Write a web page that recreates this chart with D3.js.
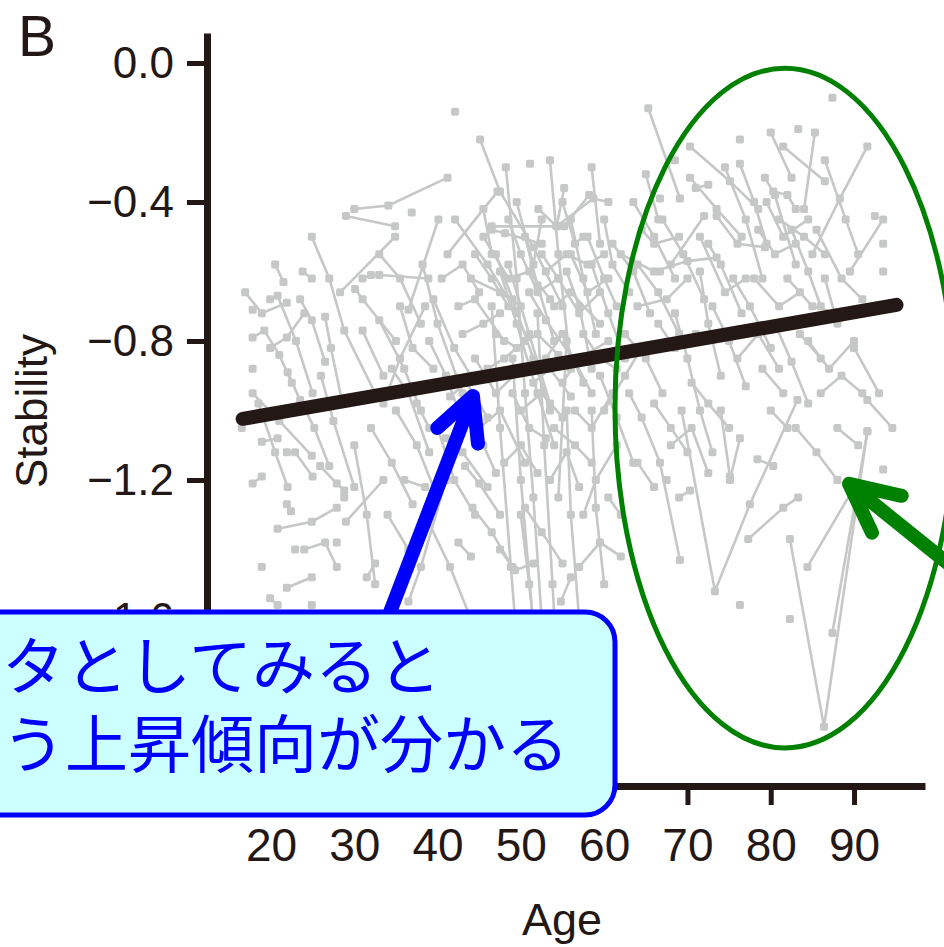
<!DOCTYPE html>
<html><head><meta charset="utf-8">
<script src="https://cdn.jsdelivr.net/npm/d3@7"></script>
<style>body{margin:0;background:#fff;} svg{display:block}</style>
</head><body><svg id="c" width="944" height="947"></svg>
<script>
// ---- data: each subject = list of [age, stability] ----
const subjectsYoung = [
  [[16.9,-0.66],[18.9,-0.72],[21.9,-0.69]],
  [[17.8,-0.71]],
  [[19.9,-0.68],[20.8,-0.67],[23.0,-0.80],[25.0,-0.95]],
  [[17.8,-0.79],[19.2,-0.77],[21.0,-0.84],[22.5,-0.92]],
  [[17.8,-0.88]],
  [[17.8,-0.95],[21.0,-1.03],[24.9,-1.13]],
  [[18.9,-1.09],[20.8,-1.08]],
  [[17.8,-1.21],[18.9,-1.19]],
  [[21.9,-1.27],[22.4,-1.29]],
  [[20.8,-1.34],[24.9,-1.32],[27.9,-1.28]],
  [[18.9,-1.45]],
  [[21.9,-1.51],[24.9,-1.48]],
  [[19.9,-1.54],[20.8,-1.56]],
  [[27.9,-1.38]],
  [[22.9,-1.40]],
  [[24.9,-1.56]],
  [[16.5,-1.05]],
  [[20.5,-0.58],[21.5,-0.63]],
  [[23.8,-0.60],[24.9,-0.62]],
  [[24.9,-0.50],[27.0,-0.62],[28.8,-0.77],[32.5,-0.95]],
  [[23.5,-0.68],[24.9,-0.74],[26.5,-0.86]],
  [[26.5,-0.73],[27.2,-0.82],[28.5,-0.97]],
  [[22.0,-0.89],[23.5,-0.97],[25.2,-1.05],[27.0,-1.16]],
  [[25.9,-1.16],[27.9,-1.21],[28.8,-1.23]],
  [[21.9,-1.12],[22.9,-1.12],[25.0,-1.19]],
  [[28.8,-1.25]],
  [[19.9,-0.82],[21.9,-0.79],[24.0,-0.72]],
  [[18.5,-0.98],[20.5,-1.12],[22.0,-1.22]],
  [[26.0,-0.90],[27.5,-1.03],[30.0,-1.22]],
  [[24.0,-1.40],[26.5,-1.38],[27.9,-1.45]]
];
const subjectsAdult = [
  [[30.0,-0.42],[34.1,-0.41],[41.2,-0.33]],
  [[29.0,-0.44],[34.9,-0.47]],
  [[28.3,-0.66],[34.9,-0.50]],
  [[36.9,-0.43]],
  [[31.0,-0.62],[32.0,-0.61],[33.0,-0.61],[38.9,-0.62]],
  [[30.1,-0.65],[31.0,-0.68],[35.0,-0.80]],
  [[31.0,-0.77],[33.5,-0.90]],
  [[33.0,-0.74],[36.0,-0.88],[38.0,-1.00]],
  [[38.2,-0.58],[40.0,-0.75],[43.0,-0.95]],
  [[36.5,-0.71],[40.1,-0.45]],
  [[32.0,-1.05],[34.5,-1.15],[37.0,-1.27]],
  [[30.0,-1.10],[31.5,-1.30],[32.5,-1.50]],
  [[29.0,-1.32],[33.5,-1.20]],
  [[33.5,-0.98],[35.5,-0.85],[38.5,-0.70]],
  [[35.0,-1.00],[37.5,-1.10],[40.0,-1.25]],
  [[34.0,-1.30],[36.5,-1.40]],
  [[31.5,-1.48],[32.5,-1.44]],
  [[36.5,-1.55],[38.0,-1.45],[41.0,-1.20]],
  [[37.5,-0.98],[39.0,-1.05]],
  [[38.5,-1.30],[41.5,-1.45],[44.0,-1.60]],
  [[39.0,-0.80],[41.0,-0.90],[42.5,-1.00]],
  [[33.0,-0.55],[35.5,-0.62],[38.0,-0.75]],
  [[35.5,-0.70],[37.0,-0.82],[39.5,-0.88]],
  [[34.5,-0.88],[36.5,-0.95],[39.0,-1.12]],
  [[40.0,-1.05],[42.0,-1.20],[44.5,-1.30]],
  [[36.0,-1.20],[38.5,-1.22]]
];
const subjectsMiddle = [
  [[42.1,-0.14]],
  [[45.1,-0.22],[47.5,-0.37],[51.5,-0.53],[55.0,-0.70]],
  [[51.1,-0.29]],
  [[54.3,-0.47],[55.2,-0.36]],
  [[55.2,-0.47],[58.2,-0.38]],
  [[52.1,-0.42],[54.3,-0.47],[58.7,-0.39],[60.5,-0.40]],
  [[46.5,-0.47],[54.3,-0.47]],
  [[46.5,-0.48],[48.1,-0.49],[52.5,-0.52]],
  [[41.2,-0.55],[47.2,-0.37]],
  [[42.1,-0.45],[46.0,-0.58],[49.5,-0.72]],
  [[47.0,-0.55],[49.0,-0.68],[51.5,-0.85],[53.5,-1.00]],
  [[47.5,-0.60],[49.5,-0.75],[52.0,-0.95],[54.0,-1.10]],
  [[48.5,-0.58],[51.0,-0.78],[53.5,-0.98]],
  [[44.0,-0.62],[47.5,-0.66],[50.0,-0.70]],
  [[42.5,-0.70],[44.5,-0.68],[48.0,-0.80]],
  [[43.0,-0.78],[45.5,-0.75],[47.5,-0.72]],
  [[44.5,-0.85],[47.0,-0.95],[50.0,-0.88]],
  [[41.5,-0.96],[43.5,-0.92],[46.0,-1.02]],
  [[45.0,-1.05],[47.5,-1.00],[50.5,-1.15]],
  [[43.3,-1.16],[45.0,-1.21],[47.5,-1.30]],
  [[44.2,-1.28],[46.5,-1.35],[49.0,-1.45]],
  [[42.5,-1.38],[44.0,-1.42]],
  [[47.5,-1.40],[49.3,-1.46],[51.5,-1.44]],
  [[48.2,-0.30],[49.5,-0.62],[50.5,-0.95],[51.5,-1.25],[52.5,-1.60]],
  [[46.5,-0.70],[47.5,-1.05],[48.8,-1.45],[49.8,-1.75]],
  [[49.0,-0.85],[50.0,-1.20],[51.5,-1.62]],
  [[52.0,-0.72],[52.8,-1.10],[53.8,-1.50],[54.5,-1.80]],
  [[54.5,-1.25],[55.5,-0.80]],
  [[50.5,-1.28],[52.5,-1.35],[55.0,-1.44]],
  [[53.5,-1.20],[55.5,-1.12],[57.0,-1.22]],
  [[56.0,-0.45],[57.5,-0.62],[59.0,-0.78]],
  [[53.0,-0.60],[55.5,-0.55],[58.0,-0.58],[60.0,-0.55]],
  [[54.0,-0.70],[56.0,-0.66],[59.5,-0.75]],
  [[51.0,-0.66],[53.0,-0.74],[56.5,-0.86],[58.5,-0.95]],
  [[55.0,-0.92],[57.0,-0.85],[60.5,-0.80]],
  [[56.5,-1.00],[58.5,-1.05],[61.0,-0.95]],
  [[50.0,-1.00],[52.5,-0.95],[55.0,-1.02]],
  [[57.5,-1.30],[59.0,-1.20],[61.5,-1.10]],
  [[58.0,-0.50],[60.0,-0.62],[61.5,-0.70]],
  [[60.0,-0.45],[61.0,-0.58],[63.0,-0.66]],
  [[57.0,-1.45],[59.5,-1.38],[62.0,-1.42]],
  [[59.5,-0.90],[61.5,-1.02],[63.5,-1.15]],
  [[48.0,-1.15],[50.0,-1.10],[52.0,-1.18]],
  [[41.0,-1.08],[43.0,-1.12],[46.0,-1.22]],
  [[53.5,-0.28],[54.5,-0.55],[56.0,-0.88]],
  [[58.5,-0.30],[59.5,-0.52]],
  [[49.5,-0.40],[51.5,-0.58],[52.5,-0.45]],
  [[45.5,-0.42],[46.5,-0.55]],
  [[60.5,-1.25],[62.0,-1.30]],
  [[54.8,-1.55],[56.0,-1.48]]
];
const subjectsMiddle2 = [
  [[45.5,-0.50],[48.5,-0.62],[51.0,-0.60],[53.5,-0.68]],
  [[47.0,-0.78],[49.5,-0.82],[52.0,-0.78],[54.5,-0.84]],
  [[50.5,-0.50],[52.0,-0.64],[54.0,-0.80]],
  [[52.5,-0.55],[54.5,-0.62],[57.0,-0.72],[59.5,-0.66]],
  [[55.5,-0.60],[57.0,-0.70],[58.5,-0.88]],
  [[53.0,-0.85],[55.0,-0.78],[57.5,-0.92]],
  [[51.5,-0.92],[53.5,-0.88],[56.0,-0.96]],
  [[56.0,-0.55],[58.0,-0.66],[60.5,-0.62]],
  [[57.5,-0.78],[59.5,-0.85],[61.5,-0.88]],
  [[49.0,-0.95],[51.0,-1.05],[53.0,-1.08]],
  [[54.0,-1.05],[56.5,-1.10],[58.5,-1.15]],
  [[46.0,-0.88],[48.0,-0.85],[50.5,-0.80]],
  [[44.5,-0.55],[46.5,-0.62],[48.5,-0.70]],
  [[40.5,-0.62],[43.0,-0.58],[45.0,-0.66]],
  [[39.5,-0.68],[42.0,-0.82],[44.0,-0.90]],
  [[43.5,-1.00],[45.5,-1.10],[47.0,-1.18]],
  [[58.5,-0.58],[60.5,-0.72],[62.5,-0.85]],
  [[60.0,-1.00],[62.5,-0.90],[64.5,-0.82]],
  [[61.0,-0.52],[63.5,-0.60],[65.5,-0.72]],
  [[48.5,-0.45],[50.0,-0.55],[52.0,-0.66],[54.5,-0.62]],
  [[55.0,-0.40],[56.5,-0.52],[57.5,-0.50]],
  [[50.0,-1.30],[51.0,-1.50],[52.0,-1.72]],
  [[55.5,-1.00],[56.0,-1.30],[57.0,-1.60]],
  [[58.5,-1.00],[59.0,-1.28],[60.0,-1.50]]
];
const subjectsOlder = [
  [[65.3,-0.13],[69.1,-0.39]],
  [[65.0,-0.32],[66.5,-0.45]],
  [[70.3,-0.24],[75.1,-0.34],[78.5,-0.42]],
  [[68.5,-0.28]],
  [[70.3,-0.33],[73.5,-0.42],[76.5,-0.50]],
  [[76.3,-0.22]],
  [[76.3,-0.29],[78.0,-0.40],[79.5,-0.52]],
  [[66.7,-0.39]],
  [[71.0,-0.36],[72.5,-0.35]],
  [[68.0,-0.58],[72.0,-0.44]],
  [[73.5,-0.44],[76.0,-0.52],[79.3,-0.53]],
  [[62.0,-0.55],[66.0,-0.60],[70.0,-0.57],[73.5,-0.56]],
  [[64.0,-0.70],[67.5,-0.68],[70.0,-0.62]],
  [[66.7,-0.60]],
  [[71.5,-0.60],[72.5,-0.75],[74.0,-0.90]],
  [[62.5,-0.78],[65.0,-0.85],[67.0,-0.95]],
  [[68.5,-0.72],[70.0,-0.85],[71.5,-1.00],[73.0,-1.12]],
  [[66.0,-0.98],[68.0,-1.05],[70.0,-1.12]],
  [[63.0,-0.95],[64.5,-1.02],[66.7,-1.15],[69.1,-1.43]],
  [[69.0,-1.25],[70.3,-1.23]],
  [[67.5,-1.20]],
  [[64.0,-1.15],[66.0,-1.22]],
  [[69.3,-1.00],[73.3,-1.52],[77.5,-1.27],[83.2,-0.97]],
  [[76.3,-1.56]],
  [[75.1,-1.20],[76.3,-1.08]],
  [[74.0,-1.00],[75.1,-1.19]],
  [[73.0,-0.70],[75.0,-0.80],[77.0,-0.93]],
  [[75.5,-0.62],[77.5,-0.70],[80.0,-0.82]],
  [[77.3,-1.37],[81.5,-1.28],[83.3,-1.25]],
  [[82.3,-1.37],[86.4,-1.91],[91.6,-1.06]],
  [[87.4,-1.64],[91.6,-1.06]],
  [[84.4,-1.45],[89.8,-1.23]],
  [[82.3,-1.60]],
  [[91.6,-0.97],[94.6,-1.05]],
  [[93.5,-1.17]],
  [[78.4,-1.14],[80.3,-1.16]],
  [[80.0,-1.00],[82.0,-1.05]],
  [[64.5,-0.48],[66.0,-0.52],[69.0,-0.50]],
  [[71.5,-0.50],[74.5,-0.66],[77.0,-0.62]],
  [[63.5,-0.40],[66.0,-0.50],[68.5,-0.62]],
  [[67.0,-0.45],[69.5,-0.55],[72.0,-0.68]],
  [[72.5,-0.52],[74.0,-0.58],[76.5,-0.72]],
  [[74.5,-0.30],[77.0,-0.45],[79.0,-0.62]],
  [[66.5,-0.75],[68.5,-0.82],[71.0,-0.78]],
  [[76.0,-0.85],[78.5,-0.78],[81.0,-0.88]],
  [[70.5,-0.92],[72.5,-0.98],[75.0,-1.05]],
  [[64.0,-0.58],[66.5,-0.66],[69.0,-0.78]],
  [[68.0,-1.10],[70.5,-1.05],[72.5,-1.18]]
];
const subjectsOldest = [
  [[87.4,-0.10]],
  [[83.3,-0.19]],
  [[84.0,-0.42],[85.3,-0.20]],
  [[81.5,-0.24],[86.5,-0.34]],
  [[85.0,-0.55],[88.3,-0.39],[91.6,-0.24]],
  [[92.5,-0.44]],
  [[89.5,-0.60],[93.5,-0.45]],
  [[93.5,-0.52]],
  [[93.5,-0.60]],
  [[80.3,-0.37],[82.0,-0.38],[83.0,-0.42]],
  [[79.3,-0.33],[80.5,-0.38],[83.0,-0.58]],
  [[81.0,-0.45],[84.0,-0.50],[86.5,-0.55]],
  [[85.5,-0.48],[88.5,-0.62],[91.0,-0.68]],
  [[82.0,-0.62],[85.0,-0.70],[88.0,-0.72]],
  [[84.5,-0.80],[87.0,-0.88],[90.0,-0.80]],
  [[80.5,-0.75],[82.5,-0.86],[84.5,-0.98]],
  [[86.0,-0.95],[88.5,-0.90],[91.0,-0.95]],
  [[88.0,-1.05],[90.5,-1.10]],
  [[83.0,-1.05],[85.5,-1.12],[88.0,-1.20]],
  [[90.0,-0.82],[93.0,-0.95]],
  [[78.0,-0.62],[81.0,-0.70],[83.5,-0.66]],
  [[79.0,-0.88],[81.5,-0.95]],
  [[86.5,-0.28],[89.0,-0.45],[90.5,-0.55]],
  [[80.0,-0.20],[82.5,-0.33]],
  [[78.5,-0.48],[80.5,-0.55],[83.0,-0.52]],
  [[82.5,-0.48],[84.5,-0.60],[86.0,-0.70]],
  [[86.5,-0.62],[88.0,-0.75],[90.0,-0.72]],
  [[83.5,-0.78],[86.0,-0.85]],
  [[79.5,-0.40],[81.5,-0.50],[84.5,-0.45]]
];
const trendLine = [[16.6,-1.024],[95.1,-0.696]];
const xTicks = [20,30,40,50,60,70,80,90];
const yTicks = [0,-0.4,-0.8,-1.2,-1.6];
const panelLabel = "B";
const xTitle = "Age";
const yTitle = "Stability";
const calloutLines = ["タとしてみると","う上昇傾向が分かる"];
// annotation anchors in data units
const ellipseCenter = [81.7,-0.993], ellipseRadius = [20.4,0.978];
const blueArrow = {tip:[44.25,-0.958], tail:[34.3,-1.58]};
const greenArrow = {tip:[89.4,-1.211], tail:[107.5,-1.56]};

// ---- drawing ----
const subjects = [...subjectsYoung, ...subjectsAdult, ...subjectsMiddle, ...subjectsMiddle2, ...subjectsOlder, ...subjectsOldest]
  .map(s => s.slice().sort((a,b)=>a[0]-b[0]));
const svg = d3.select("#c");
const x = d3.scaleLinear().domain([12.32,98.52]).range([207,925]);
const y = d3.scaleLinear().domain([0.0864,-2.0806]).range([33,786]);
const ink = "#231815", gray = "#c6c7c7";
const font = "'Liberation Sans', Arial, sans-serif";

const line = d3.line().x(d=>x(d[0])).y(d=>y(d[1]));
const gData = svg.append("g");
gData.selectAll("path.s").data(subjects.filter(s=>s.length>1)).join("path")
  .attr("d", line).attr("fill","none").attr("stroke",gray).attr("stroke-width",2.6);
gData.selectAll("rect").data(subjects.flat()).join("rect")
  .attr("x", d=>x(d[0])-4).attr("y", d=>y(d[1])-4).attr("width",8).attr("height",8)
  .attr("rx",1.8).attr("fill",gray);

svg.append("path").attr("d", line(trendLine)).attr("fill","none").attr("stroke",ink)
  .attr("stroke-width",14).attr("stroke-linecap","round");

// axes
const yAxis = svg.append("g").attr("transform",`translate(${x(12.32)},0)`)
  .call(d3.axisLeft(y).tickValues(yTicks).tickSize(20).tickSizeOuter(0).tickPadding(13).tickFormat(d3.format(".1f")));
const xAxis = svg.append("g").attr("transform",`translate(0,${y(-2.0806)})`)
  .call(d3.axisBottom(x).tickValues(xTicks).tickSize(19).tickSizeOuter(0).tickPadding(23));
[yAxis,xAxis].forEach(g=>{
  g.select(".domain").attr("stroke",ink).attr("stroke-width",7);
  g.selectAll(".tick line").attr("stroke",ink).attr("stroke-width",5);
  g.selectAll(".tick text").attr("fill",ink).style("font-family",font);
});
yAxis.selectAll(".tick text").style("font-size","44px");
xAxis.selectAll(".tick text").style("font-size","46px");

svg.append("text").text(xTitle).attr("x",562).attr("y",935).attr("text-anchor","middle")
  .style("font-family",font).style("font-size","45px").attr("fill",ink);
svg.append("text").text(yTitle).attr("transform","translate(47,411) rotate(-90)").attr("text-anchor","middle")
  .style("font-family",font).style("font-size","44px").attr("fill",ink);
svg.append("text").text(panelLabel).attr("x",18).attr("y",56)
  .style("font-family",font).style("font-size","57px").attr("fill",ink);

// green ellipse
svg.append("ellipse").attr("cx",x(ellipseCenter[0])).attr("cy",y(ellipseCenter[1]))
  .attr("rx", x(ellipseCenter[0]+ellipseRadius[0])-x(ellipseCenter[0]))
  .attr("ry", y(ellipseCenter[1]-ellipseRadius[1])-y(ellipseCenter[1]))
  .attr("fill","none").attr("stroke","#008000").attr("stroke-width",5);

function arrow(a, color, len, ang){
  const tx=x(a.tip[0]), ty=y(a.tip[1]), sx=x(a.tail[0]), sy=y(a.tail[1]);
  const th=Math.atan2(sy-ty, sx-tx);
  const p = d3.path();
  p.moveTo(sx,sy); p.lineTo(tx,ty);
  p.moveTo(tx+len*Math.cos(th+ang), ty+len*Math.sin(th+ang)); p.lineTo(tx,ty);
  p.lineTo(tx+len*Math.cos(th-ang), ty+len*Math.sin(th-ang));
  svg.append("path").attr("d",p.toString()).attr("fill","none").attr("stroke",color)
    .attr("stroke-width",14).attr("stroke-linecap","round").attr("stroke-linejoin","round");
}
arrow(greenArrow,"#008000",54,26*Math.PI/180);
arrow(blueArrow,"#0000ff",48,27*Math.PI/180);

// callout box
svg.append("rect").attr("x",-40).attr("y",612).attr("width",655).attr("height",203).attr("rx",30)
  .attr("fill","#ccffff").attr("stroke","#0000ff").attr("stroke-width",5);
svg.selectAll("text.cl").data(calloutLines).join("text").attr("class","cl")
  .attr("x",2).attr("y",(d,i)=>689+i*78).text(d=>d)
  .style("font-family","'Noto Sans CJK JP', sans-serif").style("font-size","63px").attr("fill","#0000ff");
</script></body></html>
